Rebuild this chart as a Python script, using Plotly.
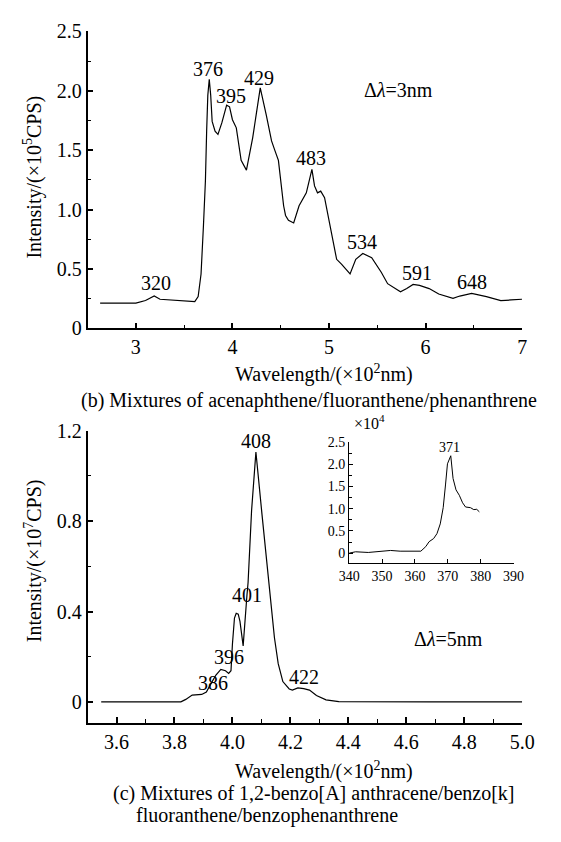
import plotly.graph_objects as go

W, H = 561, 842
SERIF = '"Liberation Serif", "Times New Roman", Times, serif'

# ---- (b) acenaphthene / fluoranthene / phenanthrene, delta lambda = 3 nm ----
b_wavelength = [2.63, 3.00, 3.10, 3.19, 3.25, 3.36, 3.50, 3.61, 3.645, 3.675, 3.70, 3.72,
                3.733, 3.745, 3.76, 3.775, 3.79, 3.82, 3.85, 3.89, 3.94, 3.97, 4.00, 4.04,
                4.09, 4.145, 4.21, 4.288, 4.35, 4.405, 4.44, 4.476, 4.53, 4.55, 4.58, 4.634,
                4.69, 4.716, 4.765, 4.823, 4.85, 4.881, 4.914, 4.954, 4.997, 5.046, 5.079,
                5.129, 5.218, 5.277, 5.35, 5.442, 5.541, 5.607, 5.657, 5.74, 5.805, 5.871,
                5.937, 6.037, 6.136, 6.284, 6.354, 6.477, 6.63, 6.779, 6.885, 6.998]
b_intensity = [0.213, 0.213, 0.235, 0.273, 0.246, 0.240, 0.232, 0.227, 0.268, 0.459, 0.869, 1.24,
               1.661, 1.962, 2.098, 1.962, 1.743, 1.66, 1.634, 1.730, 1.880, 1.866, 1.757, 1.689,
               1.415, 1.333, 1.607, 2.025, 1.798, 1.579, 1.497, 1.415, 1.033, 0.951, 0.910, 0.888,
               1.033, 1.074, 1.142, 1.339, 1.20, 1.142, 1.156, 1.101, 0.923, 0.732, 0.582,
               0.541, 0.459, 0.582, 0.631, 0.596, 0.473, 0.377, 0.350, 0.309, 0.336, 0.371,
               0.363, 0.336, 0.290, 0.254, 0.273, 0.295, 0.268, 0.235, 0.240, 0.246]
b_peak_text = ["320", "376", "395", "429", "483", "534", "591", "648"]
b_peak_x = [3.208, 3.75, 3.98, 4.27, 4.81, 5.337, 5.914, 6.482]
b_peak_y = [0.383, 2.186, 1.957, 2.112, 1.437, 0.724, 0.467, 0.391]

# ---- (c) benzo[a]anthracene / benzo[k]fluoranthene / benzophenanthrene, 5 nm ----
c_wavelength = [3.547, 3.822, 3.839, 3.861, 3.894, 3.910, 3.927, 3.943, 3.960, 3.976, 3.987,
                3.995, 4.000, 4.007, 4.013, 4.020, 4.026, 4.037, 4.050, 4.054, 4.066, 4.081,
                4.102, 4.125, 4.130, 4.136, 4.145, 4.158, 4.174, 4.196, 4.207, 4.226, 4.246,
                4.266, 4.290, 4.323, 4.367, 4.686, 5.000]
c_intensity = [0.0, 0.0, 0.011, 0.030, 0.033, 0.044, 0.083, 0.119, 0.144, 0.138, 0.126,
               0.138, 0.256, 0.371, 0.392, 0.388, 0.356, 0.248, 0.471, 0.528, 0.845, 1.106,
               0.830, 0.528, 0.471, 0.399, 0.284, 0.169, 0.090, 0.057, 0.052, 0.062, 0.059,
               0.052, 0.028, 0.009, 0.001, 0.0, 0.0]
c_peak_text = ["386", "396", "401", "408", "422"]
c_peak_x = [3.932, 3.987, 4.049, 4.081, 4.246]
c_peak_y = [0.083, 0.198, 0.475, 1.153, 0.112]

# ---- inset: low-intensity region of (c), nm vs x10^4 CPS ----
inset_wavelength = [340.0, 341.95, 345.8, 350.7, 352.6, 355.5, 361.8, 363.3, 364.3, 365.7,
                    366.7, 367.7, 368.6, 369.3, 369.9, 370.9, 371.6, 372.5, 373.5, 374.5,
                    375.4, 376.9, 377.9, 378.8, 379.6]
inset_intensity = [0.0, 0.03, 0.015, 0.044, 0.06, 0.044, 0.044, 0.147, 0.257, 0.329,
                   0.439, 0.658, 1.024, 1.535, 2.011, 2.193, 1.682, 1.425, 1.303, 1.134,
                   1.039, 1.024, 0.980, 0.987, 0.930]
inset_peak_text = "371"
inset_peak_x, inset_peak_y = 370.6, 2.377

# tick values and labels
b_xticks = [3, 4, 5, 6, 7]
b_yticks = [0, 0.5, 1.0, 1.5, 2.0, 2.5]
b_yticktext = ["0", "0.5", "1.0", "1.5", "2.0", "2.5"]
c_xticks = [3.6, 3.8, 4.0, 4.2, 4.4, 4.6, 4.8, 5.0]
c_xticktext = ["3.6", "3.8", "4.0", "4.2", "4.4", "4.6", "4.8", "5.0"]
c_yticks = [0, 0.4, 0.8, 1.2]
c_yticktext = ["0", "0.4", "0.8", "1.2"]
inset_xticks = [340, 350, 360, 370, 380, 390]
inset_yticks = [0, 0.5, 1.0, 1.5, 2.0, 2.5]
inset_yticktext = ["0", "0.5", "1.0", "1.5", "2.0", "2.5"]


def px_x(p):
    return p / W


def px_y(p):
    return 1 - p / H


fig = go.Figure()
line = dict(color="black", width=1.2)
fig.add_trace(go.Scatter(x=b_wavelength, y=b_intensity, mode="lines", line=line,
                         xaxis="x", yaxis="y", showlegend=False))
fig.add_trace(go.Scatter(x=c_wavelength, y=c_intensity, mode="lines", line=line,
                         xaxis="x2", yaxis="y2", showlegend=False))
fig.add_trace(go.Scatter(x=inset_wavelength, y=inset_intensity, mode="lines",
                         line=dict(color="black", width=1.0),
                         xaxis="x3", yaxis="y3", showlegend=False))

tick_font = dict(family=SERIF, size=20, color="black")
small_font = dict(family=SERIF, size=14, color="black")


def axis(**kw):
    base = dict(showline=True, linecolor="black", linewidth=1.5, ticks="inside",
                ticklen=6, tickwidth=1.5, tickcolor="black", showgrid=False,
                zeroline=False, mirror=False, tickfont=tick_font)
    base.update(kw)
    return base


def minor(d, ln=4):
    return dict(dtick=d, ticks="inside", ticklen=ln, tickwidth=1.2,
                tickcolor="black", showgrid=False)


xdom = [px_x(80), px_x(534)]
fig.update_layout(
    width=W, height=H, margin=dict(l=0, r=0, t=0, b=0),
    paper_bgcolor="white", plot_bgcolor="white",
    font=dict(family=SERIF, color="black", size=20),
    xaxis=axis(domain=xdom, range=[2.5, 7.0], tickvals=b_xticks, anchor="y",
               minor=minor(0.5)),
    yaxis=axis(domain=[px_y(326), px_y(21)], range=[0, 2.5], tickvals=b_yticks,
               ticktext=b_yticktext, anchor="x", minor=minor(0.25)),
    xaxis2=axis(domain=xdom, range=[3.5, 5.0], tickvals=c_xticks, ticktext=c_xticktext,
                anchor="y2", minor=minor(0.1)),
    yaxis2=axis(domain=[px_y(731), px_y(431)], range=[-0.093, 1.2], tickvals=c_yticks,
                ticktext=c_yticktext, anchor="x2", minor=minor(0.2)),
    xaxis3=axis(domain=[px_x(353.3), px_x(525)], range=[340, 390], tickvals=inset_xticks,
                anchor="y3", tickfont=small_font, ticklen=4, linewidth=1.2, tickwidth=1.2),
    yaxis3=axis(domain=[px_y(566.7), px_y(442.7)], range=[-0.22, 2.5], tickvals=inset_yticks,
                ticktext=inset_yticktext, anchor="x3", tickfont=small_font, ticklen=4,
                linewidth=1.2, tickwidth=1.2, minor=minor(0.25, 3)),
)

ann = []
lab_font = dict(family=SERIF, size=20, color="black")
for t, x, y in zip(b_peak_text, b_peak_x, b_peak_y):
    ann.append(dict(text=t, x=x, y=y, xref="x", yref="y", showarrow=False, font=lab_font))
for t, x, y in zip(c_peak_text, c_peak_x, c_peak_y):
    ann.append(dict(text=t, x=x, y=y, xref="x2", yref="y2", showarrow=False, font=lab_font))
ann.append(dict(text=inset_peak_text, x=inset_peak_x, y=inset_peak_y, xref="x3", yref="y3",
                showarrow=False, font=small_font))


def paper_text(text, x, y, size=20, angle=0, xanchor="center"):
    ann.append(dict(text=text, x=px_x(x), y=px_y(y), xref="paper", yref="paper",
                    showarrow=False, textangle=angle, xanchor=xanchor, yanchor="middle",
                    font=dict(family=SERIF, size=size, color="black")))


paper_text("Δ<i>λ</i>=3nm", 405, 81)
paper_text("Δ<i>λ</i>=5nm", 457, 645)
paper_text("×10<sup>4</sup>", 375, 422, size=16)
paper_text("Intensity/(×10<sup>5</sup>CPS)", 23, 171, angle=-90)
paper_text("Intensity/(×10<sup>7</sup>CPS)", 23, 565, angle=-90)
paper_text("Wavelength/(×10<sup>2</sup>nm)", 327, 372)
paper_text("Wavelength/(×10<sup>2</sup>nm)", 327, 780)
paper_text("(b) Mixtures of acenaphthene/fluoranthene/phenanthrene", 311, 400)
paper_text("(c) Mixtures of 1,2-benzo[A] anthracene/benzo[k]", 316, 803)
paper_text("fluoranthene/benzophenanthrene", 129, 826, xanchor="left")

fig.update_layout(annotations=ann)
fig.write_html("out.html")
